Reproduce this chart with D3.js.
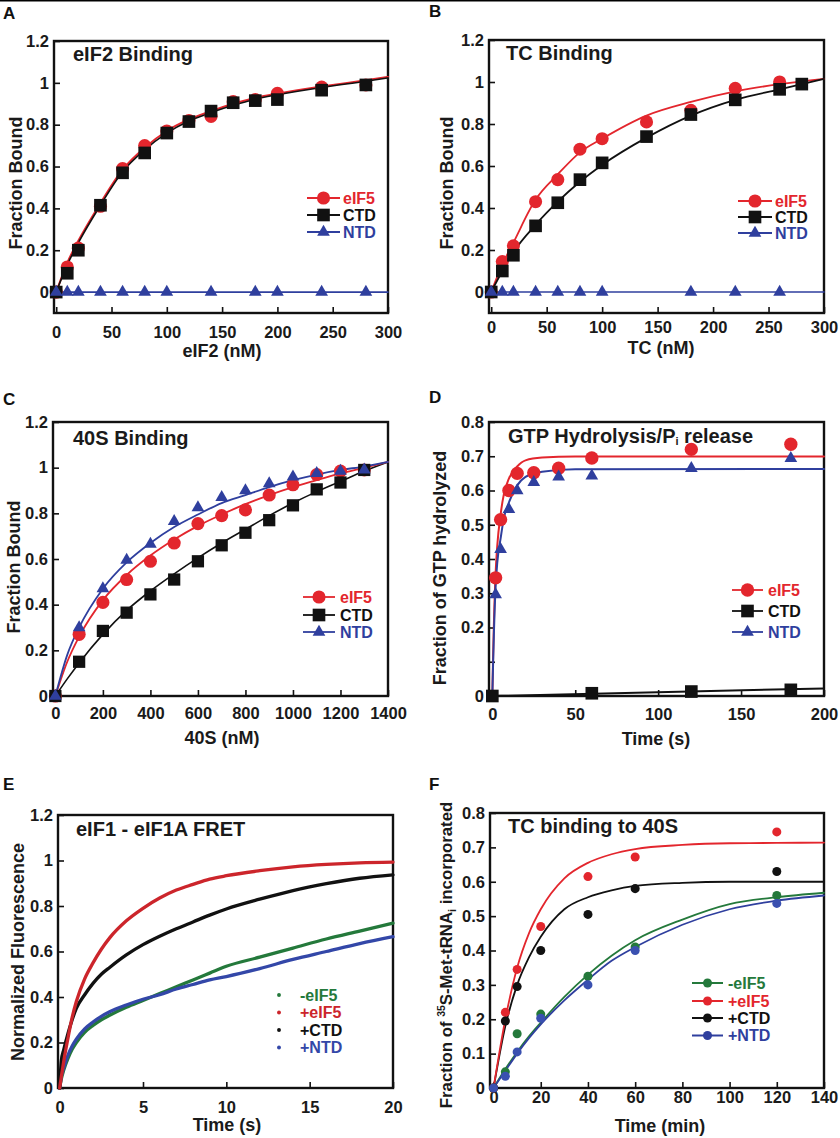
<!DOCTYPE html>
<html><head><meta charset="utf-8">
<script src="https://cdn.jsdelivr.net/npm/d3@7"></script>
<style>body{margin:0;background:#fff} svg{display:block}</style>
</head><body>
<svg id="chart" width="840" height="1138"></svg>
<script>
// ---------- Panel A : eIF2 binding ----------
const aX = [0,10,20,40,60,80,100,120,140,160,180,200,240,280];
const aEIF5 = [0,0.12,0.21,0.41,0.59,0.70,0.77,0.82,0.84,0.91,0.92,0.95,0.98,0.99];
const aCTD = [0,0.09,0.20,0.415,0.57,0.665,0.76,0.815,0.865,0.905,0.915,0.92,0.965,0.99];
const aNTDx = [0,10,20,40,60,80,100,140,180,200,240,280];
const aNTD = [0,0,0,0,0,0,0,0,0,0,0,0];
const aFitX = [0,10,20,40,60,80,100,120,140,160,180,200,240,280,300];
const aFitEIF5 = [0,0.14,0.245,0.425,0.585,0.69,0.77,0.825,0.865,0.9,0.928,0.948,0.982,1.012,1.028];
const aFitCTD = [0,0.13,0.235,0.415,0.575,0.68,0.76,0.818,0.858,0.893,0.922,0.943,0.978,1.008,1.024];
const aFitNTDx = [0,300];
const aFitNTD = [0,0];

// ---------- Panel B : TC binding ----------
const bX = [0,10,20,40,60,80,100,140,180,220,260];
const bEIF5 = [0,0.145,0.22,0.43,0.535,0.68,0.73,0.81,0.865,0.97,1.0];
const bCTDx = [0,10,20,40,60,80,100,140,180,220,260,280];
const bCTD = [0,0.1,0.175,0.315,0.425,0.535,0.615,0.74,0.845,0.915,0.965,0.99];
const bNTDx = [0,10,20,40,60,80,100,180,220,260];
const bNTD = [0,0,0,0,0,0,0,0,0,0];
const bFitX = [0,10,20,40,60,80,100,140,180,220,260,300];
const bFitEIF5 = [0,0.13,0.235,0.44,0.56,0.665,0.73,0.84,0.905,0.955,0.99,1.015];
const bFitCTD = [0,0.1,0.19,0.32,0.43,0.525,0.605,0.735,0.84,0.915,0.965,1.015];
const bFitNTDx = [0,300];
const bFitNTD = [0,0];

// ---------- Panel C : 40S binding ----------
const cX = [0,100,200,300,400,500,600,700,800,900,1000,1100,1200,1300];
const cEIF5 = [0,0.27,0.41,0.51,0.59,0.67,0.755,0.79,0.815,0.88,0.925,0.97,0.985,0.99];
const cCTD = [0,0.15,0.285,0.365,0.445,0.51,0.59,0.66,0.715,0.77,0.835,0.905,0.935,0.99];
const cNTD = [0,0.3,0.47,0.595,0.665,0.765,0.825,0.87,0.9,0.93,0.96,0.975,0.985,0.99];
const cFitX = [0,50,100,200,300,400,500,600,700,800,900,1000,1100,1200,1300,1400];
const cFitEIF5 = [0,0.15,0.26,0.42,0.53,0.615,0.685,0.745,0.795,0.84,0.88,0.915,0.945,0.975,1.0,1.025];
const cFitCTD = [0,0.075,0.145,0.27,0.375,0.46,0.535,0.605,0.67,0.73,0.79,0.845,0.895,0.94,0.985,1.025];
const cFitNTD = [0,0.18,0.3,0.47,0.585,0.67,0.74,0.795,0.845,0.88,0.915,0.945,0.97,0.99,1.005,1.025];

// ---------- Panel D : GTP hydrolysis ----------
const dEIF5x = [2,5,10,15,25,40,60,120,180];
const dEIF5 = [0.345,0.515,0.6,0.65,0.652,0.665,0.695,0.72,0.735];
const dNTDx = [2,5,10,15,25,40,60,120,180];
const dNTD = [0.296,0.428,0.545,0.6,0.624,0.64,0.643,0.665,0.694];
const dCTDx = [0,60,120,180];
const dCTD = [0,0.008,0.013,0.018];
const dFitX = [0,0.5,1,2,3,5,7,10,15,20,30,50,200];
const dFitEIF5 = [0,0.12,0.22,0.36,0.44,0.53,0.59,0.635,0.67,0.688,0.696,0.699,0.699];
const dFitNTD = [0,0.1,0.19,0.32,0.39,0.46,0.52,0.565,0.615,0.64,0.655,0.662,0.663];
const dFitCTDx = [0,200];
const dFitCTD = [0,0.022];

// ---------- Panel E : eIF1 - eIF1A FRET traces ----------
const eT = [0,0.1,0.25,0.5,0.75,1,1.5,2,2.5,3,4,5,6,7,8,9,10,12,14,16,18,20];
const eMinus = [0,0.04,0.08,0.13,0.17,0.2,0.245,0.275,0.3,0.32,0.355,0.385,0.415,0.445,0.475,0.505,0.535,0.575,0.615,0.655,0.69,0.725];
const ePlus = [0,0.05,0.12,0.22,0.31,0.38,0.48,0.55,0.61,0.66,0.735,0.79,0.835,0.87,0.895,0.918,0.933,0.955,0.972,0.983,0.99,0.993];
const eCTD = [0,0.12,0.17,0.24,0.3,0.35,0.41,0.46,0.5,0.53,0.585,0.63,0.667,0.7,0.73,0.76,0.787,0.83,0.868,0.898,0.922,0.937];
const eNTD = [0,0.05,0.09,0.145,0.185,0.215,0.26,0.29,0.315,0.335,0.365,0.39,0.41,0.435,0.455,0.475,0.49,0.525,0.565,0.6,0.635,0.665];

// ---------- Panel F : TC binding to 40S ----------
const fX = [0,5,10,20,40,60,120];
const fMinus = [0,0.047,0.158,0.215,0.325,0.41,0.56];
const fPlus = [0,0.22,0.345,0.47,0.615,0.672,0.745];
const fCTD = [0,0.195,0.295,0.4,0.505,0.58,0.63];
const fNTD = [0,0.034,0.105,0.203,0.3,0.4,0.537];
const fFitX = [0,5,10,15,20,30,40,50,60,80,100,120,140];
const fFitMinus = [0,0.055,0.105,0.15,0.19,0.265,0.33,0.385,0.43,0.49,0.535,0.555,0.568];
const fFitPlus = [0,0.2,0.35,0.45,0.52,0.61,0.655,0.68,0.695,0.707,0.712,0.713,0.714];
const fFitCTD = [0,0.18,0.3,0.38,0.44,0.52,0.555,0.575,0.588,0.597,0.6,0.6,0.6];
const fFitNTD = [0,0.05,0.1,0.145,0.185,0.255,0.315,0.37,0.41,0.475,0.52,0.545,0.56];

// ---------- ticks & labels ----------
const ticksBindX = [0,50,100,150,200,250,300];
const ticksBindY = [0,0.2,0.4,0.6,0.8,1,1.2];
const ticksCX = [0,200,400,600,800,1000,1200,1400];
const ticksDX = [0,50,100,150,200];
const ticksDY = [0,0.1,0.2,0.3,0.4,0.5,0.6,0.7,0.8];
const labelsDY = ["0","","0.2","0.3","0.4","0.5","0.6","0.7","0.8"];
const ticksEX = [0,5,10,15,20];
const ticksFX = [0,20,40,60,80,100,120,140];
const ticksFY = [0,0.1,0.2,0.3,0.4,0.5,0.6,0.7,0.8];
const legendABCD = ["eIF5","CTD","NTD"];
const legendEF = ["-eIF5","+eIF5","+CTD","+NTD"];

// ---------- drawing ----------
const FONT = '"Liberation Sans", Arial, Helvetica, sans-serif';
const RED = "#e3262d", BLACK = "#111111", BLUE = "#2f3f9e", GREEN = "#24793b";
const E_RED = "#cc252b", E_BLUE = "#3347a8";
const svg = d3.select("#chart");
svg.append("line").attr("x1",0).attr("x2",840).attr("y1",0.8).attr("y2",0.8)
  .attr("stroke","#000").attr("stroke-width",1.6);

const fmt = d3.format("~g");
function zip(a,b){ return a.map((v,i)=>[v,b[i]]); }

function panel(o){
  const g = svg.append("g");
  const x = d3.scaleLinear().domain(o.xd).range([o.l,o.r]);
  const y = d3.scaleLinear().domain(o.yd).range([o.b,o.t]);
  g.append("rect").attr("x",o.l).attr("y",o.t).attr("width",o.r-o.l).attr("height",o.b-o.t)
    .attr("fill","none").attr("stroke","#111").attr("stroke-width",2.4);
  const xa = g.append("g").attr("transform",`translate(0,${o.b})`)
    .call(d3.axisBottom(x).tickValues(o.xt).tickSize(-6).tickPadding(o.xpad).tickFormat(fmt));
  const ya = g.append("g").attr("transform",`translate(${o.l},0)`)
    .call(d3.axisLeft(y).tickValues(o.yt).tickSize(-6).tickPadding(5)
      .tickFormat(o.ylab ? ((d,i)=>o.ylab[i]) : fmt));
  [xa,ya].forEach(a=>{
    a.select(".domain").remove();
    a.selectAll("line").attr("stroke","#111").attr("stroke-width",1.6);
    a.selectAll("text").attr("font-family",FONT).attr("font-size",16.5).attr("font-weight","bold").attr("fill","#1a1a1a");
  });
  svg.append("text").attr("x",o.letter[0]).attr("y",o.letter[1]).text(o.name)
    .attr("font-family",FONT).attr("font-size",17).attr("font-weight","bold").attr("fill","#111");
  const tt = svg.append("text").attr("x",o.title[0]).attr("y",o.title[1])
    .attr("font-family",FONT).attr("font-size",20).attr("font-weight","bold").attr("fill","#1a1a1a");
  o.titleParts.forEach(p=>{
    const s = tt.append("tspan").text(p.t);
    if(p.sub){ s.attr("font-size",11).attr("dy",2); }
    if(p.after){ s.attr("dy",-2); }
  });
  svg.append("text").attr("x",o.xlabel[0]).attr("y",o.xlabel[1]).attr("text-anchor","middle")
    .text(o.xname).attr("font-family",FONT).attr("font-size",18).attr("font-weight","bold").attr("fill","#1a1a1a");
  const yl = svg.append("text").attr("transform",`translate(${o.ylabel[0]},${o.ylabel[1]}) rotate(-90)`)
    .attr("text-anchor","middle").attr("font-family",FONT).attr("font-size",o.yfs||18)
    .attr("font-weight","bold").attr("fill","#1a1a1a");
  o.yparts.forEach(p=>{
    const s = yl.append("tspan").text(p.t);
    if(p.fs) s.attr("font-size",p.fs);
    if(p.dy) s.attr("dy",p.dy);
  });
  return {g,x,y};
}

function fit(p, xs, ys, color, w){
  p.g.append("path").datum(zip(xs,ys)).attr("fill","none").attr("stroke",color)
    .attr("stroke-width",w).attr("stroke-linejoin","round").attr("stroke-linecap","round")
    .attr("d", d3.line().x(d=>p.x(d[0])).y(d=>p.y(d[1])).curve(d3.curveMonotoneX));
}
const SHAPES = {circle:d3.symbolCircle, square:d3.symbolSquare, triangle:d3.symbolTriangle};
function marks(p, xs, ys, shape, color, size){
  p.g.append("g").selectAll("path").data(zip(xs,ys)).join("path")
    .attr("transform",d=>`translate(${p.x(d[0])},${p.y(d[1])})`)
    .attr("d", d3.symbol(SHAPES[shape], size)()).attr("fill",color);
}
function legend(items, x1, x2, xt, rows, opts){
  items.forEach((it,i)=>{
    const yy = rows[i];
    if(!opts.dotOnly){
      svg.append("line").attr("x1",x1).attr("x2",x2).attr("y1",yy).attr("y2",yy)
        .attr("stroke",it.color).attr("stroke-width",opts.lw||1.8);
    }
    svg.append("path").attr("transform",`translate(${(x1+x2)/2},${yy})`)
      .attr("d", d3.symbol(SHAPES[it.shape], it.size)()).attr("fill",it.color);
    svg.append("text").attr("x",xt).attr("y",yy).attr("dy","0.36em").text(it.label)
      .attr("font-family",FONT).attr("font-size",16).attr("font-weight","bold").attr("fill",it.tcolor||it.color);
  });
}

const CIR = 135, SQ = 160, TRI = 70;

// ---- Panel A ----
const pA = panel({name:"A", l:54, r:388, t:41, b:313, xd:[-2,300], yd:[-0.1,1.2],
  xt:ticksBindX, yt:ticksBindY, xpad:13, letter:[3,19], title:[73,61],
  titleParts:[{t:"eIF2 Binding"}], xname:"eIF2 (nM)", xlabel:[222,357],
  ylabel:[21.5,183], yparts:[{t:"Fraction Bound"}]});
fit(pA, aFitNTDx, aFitNTD, BLUE, 1.6);
fit(pA, aFitX, aFitEIF5, RED, 2);
fit(pA, aFitX, aFitCTD, BLACK, 1.6);
marks(pA, aX, aEIF5, "circle", RED, CIR);
marks(pA, aX, aCTD, "square", BLACK, SQ);
marks(pA, aNTDx, aNTD, "triangle", BLUE, TRI);
legend([{label:legendABCD[0],color:RED,shape:"circle",size:CIR},
        {label:legendABCD[1],color:BLACK,shape:"square",size:SQ},
        {label:legendABCD[2],color:BLUE,shape:"triangle",size:TRI}],
  307,340,343,[198,215,232],{});

// ---- Panel B ----
const pB = panel({name:"B", l:489, r:824, t:40, b:313, xd:[-2,300], yd:[-0.1,1.2],
  xt:ticksBindX, yt:ticksBindY, xpad:8.5, letter:[429,17], title:[506,60],
  titleParts:[{t:"TC Binding"}], xname:"TC (nM)", xlabel:[661,354],
  ylabel:[453,183], yparts:[{t:"Fraction Bound"}]});
fit(pB, bFitNTDx, bFitNTD, BLUE, 1.6);
fit(pB, bFitX, bFitEIF5, RED, 1.8);
fit(pB, bFitX, bFitCTD, BLACK, 1.8);
marks(pB, bX, bEIF5, "circle", RED, CIR);
marks(pB, bCTDx, bCTD, "square", BLACK, SQ);
marks(pB, bNTDx, bNTD, "triangle", BLUE, TRI);
legend([{label:legendABCD[0],color:RED,shape:"circle",size:CIR},
        {label:legendABCD[1],color:BLACK,shape:"square",size:SQ},
        {label:legendABCD[2],color:BLUE,shape:"triangle",size:TRI}],
  738,772,775,[201,217,233],{});

// ---- Panel C ----
const pC = panel({name:"C", l:53, r:388, t:422, b:696, xd:[-10,1400], yd:[0,1.2],
  xt:ticksCX, yt:ticksBindY, xpad:11.5, letter:[3,405], title:[73,445],
  titleParts:[{t:"40S Binding"}], xname:"40S (nM)", xlabel:[222,744],
  ylabel:[20,567], yparts:[{t:"Fraction Bound"}]});
fit(pC, cFitX, cFitCTD, BLACK, 1.6);
fit(pC, cFitX, cFitEIF5, RED, 1.8);
fit(pC, cFitX, cFitNTD, BLUE, 1.8);
marks(pC, cX, cEIF5, "circle", RED, CIR);
marks(pC, cX, cCTD, "square", BLACK, 150);
marks(pC, cX, cNTD, "triangle", BLUE, TRI);
legend([{label:legendABCD[0],color:RED,shape:"circle",size:CIR},
        {label:legendABCD[1],color:BLACK,shape:"square",size:SQ},
        {label:legendABCD[2],color:BLUE,shape:"triangle",size:TRI}],
  303,335,340,[597,615,632],{});

// ---- Panel D ----
const pD = panel({name:"D", l:489, r:824, t:422, b:696, xd:[-2,200], yd:[0,0.8],
  xt:ticksDX, yt:ticksDY, ylab:labelsDY, xpad:12, letter:[429,403], title:[508,443],
  titleParts:[{t:"GTP Hydrolysis/P"},{t:"i",sub:true},{t:" release",after:true}],
  xname:"Time (s)", xlabel:[656,745],
  ylabel:[446,568], yparts:[{t:"Fraction of GTP hydrolyzed"}]});
fit(pD, dFitX, dFitEIF5, RED, 2);
fit(pD, dFitX, dFitNTD, BLUE, 2);
fit(pD, dFitCTDx, dFitCTD, BLACK, 2);
marks(pD, dEIF5x, dEIF5, "circle", RED, 140);
marks(pD, dNTDx, dNTD, "triangle", BLUE, TRI);
marks(pD, dCTDx, dCTD, "square", BLACK, SQ);
legend([{label:legendABCD[0],color:RED,shape:"circle",size:140},
        {label:legendABCD[1],color:BLACK,shape:"square",size:SQ},
        {label:legendABCD[2],color:BLUE,shape:"triangle",size:TRI}],
  732,763,768,[590,611,632],{});

// ---- Panel E ----
const pE = panel({name:"E", l:58, r:393, t:815, b:1088, xd:[-0.1,20], yd:[0,1.2],
  xt:ticksEX, yt:ticksBindY, xpad:13, letter:[3,790], title:[76,836],
  titleParts:[{t:"eIF1 - eIF1A FRET"}], xname:"Time (s)", xlabel:[227,1131],
  ylabel:[23.5,952], yparts:[{t:"Normalized Fluorescence"}]});
fit(pE, eT, eMinus, GREEN, 3.3);
fit(pE, eT, eNTD, E_BLUE, 3.3);
fit(pE, eT, eCTD, BLACK, 3.3);
fit(pE, eT, ePlus, E_RED, 3.3);
legend([{label:legendEF[0],color:GREEN,shape:"circle",size:12},
        {label:legendEF[1],color:E_RED,shape:"circle",size:12},
        {label:legendEF[2],color:BLACK,shape:"circle",size:12},
        {label:legendEF[3],color:E_BLUE,shape:"circle",size:12}],
  279,279,300,[995,1012.5,1030,1047.5],{dotOnly:true});

// ---- Panel F ----
const pF = panel({name:"F", l:490, r:824, t:813, b:1088, xd:[-1.5,140], yd:[0,0.8],
  xt:ticksFX, yt:ticksFY, xpad:3.5, letter:[429,790], title:[508,833],
  titleParts:[{t:"TC binding to 40S"}], xname:"Time (min)", xlabel:[660,1132],
  ylabel:[452,955], yfs:16.8,
  yparts:[{t:"Fraction of "},{t:"35",fs:10.5,dy:-7},{t:"S-Met-tRNA",fs:16.8,dy:7},{t:"i",fs:10.5,dy:4},{t:" incorporated",fs:16.8,dy:-4}]});
fit(pF, fFitX, fFitMinus, GREEN, 1.8);
fit(pF, fFitX, fFitNTD, BLUE, 1.8);
fit(pF, fFitX, fFitCTD, BLACK, 1.8);
fit(pF, fFitX, fFitPlus, RED, 1.8);
const FC = 64;
marks(pF, fX, fMinus, "circle", GREEN, FC);
marks(pF, fX, fPlus, "circle", RED, FC);
marks(pF, fX, fCTD, "circle", BLACK, FC);
marks(pF, fX, fNTD, "circle", "#3a50b0", FC);
legend([{label:legendEF[0],color:GREEN,shape:"circle",size:FC},
        {label:legendEF[1],color:RED,shape:"circle",size:FC},
        {label:legendEF[2],color:BLACK,shape:"circle",size:FC},
        {label:legendEF[3],color:BLUE,shape:"circle",size:FC}],
  692,723,728,[983,1001,1018,1035.5],{lw:2});
</script>
</body></html>
